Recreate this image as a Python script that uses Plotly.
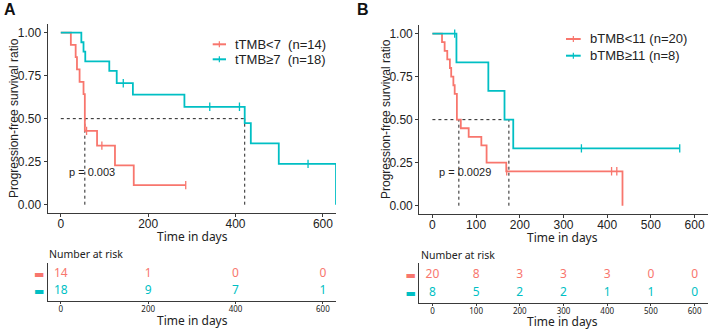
import plotly.graph_objects as go

W, H = 708, 330
RED = '#F8766D'
TEAL = '#00BFC4'
AX = '#3a3a3a'

# ---------------- Panel A data (tTMB) ----------------
a_red_t = [0, 23, 34, 37, 43, 52, 55, 83, 124, 167, 286]
a_red_s = [1.0, 0.929, 0.857, 0.786, 0.714, 0.643, 0.429, 0.343, 0.229, 0.114, 0.114]
a_red_cens_t = [59, 94, 286]
a_red_cens_s = [0.429, 0.343, 0.114]

a_teal_t = [0, 47, 52, 56, 111, 128, 165, 283, 421, 435, 499, 630]
a_teal_s = [1.0, 0.944, 0.889, 0.833, 0.778, 0.706, 0.640, 0.569, 0.474, 0.356, 0.237, 0.0]
a_teal_cens_t = [143, 341, 409, 566]
a_teal_cens_s = [0.706, 0.569, 0.569, 0.237]

a_medians = [55, 421]
a_pval = "p = 0.003"
a_labels = ["tTMB<7  (n=14)", "tTMB≥7  (n=18)"]

a_risk_t = [0, 200, 400, 600]
a_risk_red = [14, 1, 0, 0]
a_risk_teal = [18, 9, 7, 1]

# ---------------- Panel B data (bTMB) ----------------
b_red_t = [0, 22, 28, 34, 40, 43, 48, 51, 56, 65, 83, 112, 124, 169, 435]
b_red_s = [1.0, 0.95, 0.90, 0.85, 0.80, 0.75, 0.70, 0.65, 0.50, 0.45, 0.40, 0.35, 0.25, 0.20, 0.0]
b_red_cens_t = [170, 410, 422]
b_red_cens_s = [0.20, 0.20, 0.20]

b_teal_t = [0, 55, 128, 165, 185, 566]
b_teal_s = [1.0, 0.833, 0.667, 0.5, 0.333, 0.333]
b_teal_cens_t = [51, 341, 566]
b_teal_cens_s = [1.0, 0.333, 0.333]

b_medians = [60.5, 175]
b_pval = "p = 0.0029"
b_labels = ["bTMB<11 (n=20)", "bTMB≥11 (n=8)"]

b_risk_t = [0, 100, 200, 300, 400, 500, 600]
b_risk_red = [20, 8, 3, 3, 3, 0, 0]
b_risk_teal = [8, 5, 2, 2, 1, 1, 0]

y_ticks = [0, 0.25, 0.5, 0.75, 1.0]
y_ticktext = ["0.00", "0.25", "0.50", "0.75", "1.00"]


def px(x):
    return x / W


def py(y):
    return 1 - y / H


fig = go.Figure()


def add_panel(xa, ya, red_t, red_s, rct, rcs, teal_t, teal_s, tct, tcs, medians):
    # median dashed lines
    mx = [0, max(medians), None]
    my = [0.5, 0.5, None]
    for m in medians:
        mx += [m, m, None]
        my += [0, 0.5, None]
    fig.add_trace(go.Scatter(x=mx, y=my, mode='lines', xaxis=xa, yaxis=ya,
                             line=dict(color='#222', width=1, dash='3px,3px'),
                             showlegend=False, hoverinfo='skip'))
    for t, s, ct, cs, c in [(red_t, red_s, rct, rcs, RED), (teal_t, teal_s, tct, tcs, TEAL)]:
        fig.add_trace(go.Scatter(x=t, y=s, mode='lines', xaxis=xa, yaxis=ya,
                                 line=dict(color=c, width=1.8, shape='hv'),
                                 showlegend=False, hoverinfo='skip'))
        fig.add_trace(go.Scatter(x=ct, y=cs, mode='markers', xaxis=xa, yaxis=ya,
                                 marker=dict(symbol='line-ns-open', size=6, color=c,
                                             line=dict(color=c, width=1.3)),
                                 showlegend=False, hoverinfo='skip'))


add_panel('x', 'y', a_red_t, a_red_s, a_red_cens_t, a_red_cens_s,
          a_teal_t, a_teal_s, a_teal_cens_t, a_teal_cens_s, a_medians)
add_panel('x2', 'y2', b_red_t, b_red_s, b_red_cens_t, b_red_cens_s,
          b_teal_t, b_teal_s, b_teal_cens_t, b_teal_cens_s, b_medians)

# p-values
fig.add_annotation(x=14, y=0.19, xref='x', yref='y', text=a_pval, showarrow=False,
                   xanchor='left', yanchor='middle',
                   font=dict(family='Liberation Sans', size=11, color='#222'))
fig.add_annotation(x=11, y=0.193, xref='x2', yref='y2', text=b_pval, showarrow=False,
                   xanchor='left', yanchor='middle',
                   font=dict(family='Liberation Sans', size=11, color='#222'))

# risk tables
for xa, ya, t, r, tl in [('x3', 'y3', a_risk_t, a_risk_red, a_risk_teal),
                         ('x4', 'y4', b_risk_t, b_risk_red, b_risk_teal)]:
    fig.add_trace(go.Scatter(x=t, y=[2] * len(t), text=[str(v) for v in r], mode='text',
                             xaxis=xa, yaxis=ya, textfont=dict(family='Noto Sans', size=12, color=RED),
                             showlegend=False, hoverinfo='skip', cliponaxis=False))
    fig.add_trace(go.Scatter(x=t, y=[1] * len(t), text=[str(v) for v in tl], mode='text',
                             xaxis=xa, yaxis=ya, textfont=dict(family='Noto Sans', size=12, color=TEAL),
                             showlegend=False, hoverinfo='skip', cliponaxis=False))

main_x = dict(range=[-30, 630], showline=True, linecolor=AX, linewidth=1.2, ticks='outside',
              ticklen=3, tickcolor=AX, showgrid=False, zeroline=False, automargin=False,
              ticklabelstandoff=-4,
              tickfont=dict(family='Liberation Sans', size=12, color='#222'))
main_y = dict(range=[-0.05, 1.05], showline=True, linecolor=AX, linewidth=1.2, ticks='outside',
              ticklen=3, tickcolor=AX, showgrid=False, zeroline=False, automargin=False,
              tickvals=y_ticks, ticktext=y_ticktext,
              tickfont=dict(family='Liberation Sans', size=12, color='#222'))
tab_x = dict(range=[-30, 630], showline=True, linecolor=AX, linewidth=1.2, ticks='outside',
             ticklen=2, tickcolor=AX, showgrid=False, zeroline=False, automargin=False,
             ticklabelstandoff=-2,
             tickfont=dict(family='Noto Sans', size=8, color='#222'))
dash_text = ['<span style="color:%s">▬</span>' % TEAL, '<span style="color:%s">▬</span>' % RED]
tab_y = dict(showline=True, linecolor=AX, linewidth=1.2, ticks='', showgrid=False, zeroline=False,
             automargin=False, tickvals=[1, 2], ticktext=dash_text,
             tickfont=dict(family='DejaVu Sans', size=11))

fig.update_layout(
    width=W, height=H, margin=dict(l=0, r=0, t=0, b=0),
    paper_bgcolor='white', plot_bgcolor='white', showlegend=False,
    xaxis=dict(main_x, domain=[px(47.7), px(336)], anchor='y', tickvals=[0, 200, 400, 600]),
    yaxis=dict(main_y, domain=[py(213.3), py(24)], anchor='x'),
    xaxis2=dict(main_x, domain=[px(419.3), px(707.7)], anchor='y2',
                tickvals=[0, 100, 200, 300, 400, 500, 600]),
    yaxis2=dict(main_y, domain=[py(214.3), py(25)], anchor='x2'),
    xaxis3=dict(tab_x, domain=[px(47.7), px(336)], anchor='y3', tickvals=a_risk_t),
    yaxis3=dict(tab_y, domain=[py(301), py(263)], anchor='x3', range=[0.412, 2.647]),
    xaxis4=dict(tab_x, domain=[px(419.3), px(707.7)], anchor='y4', tickvals=b_risk_t),
    yaxis4=dict(tab_y, domain=[py(303), py(263)], anchor='x4', range=[0.418, 2.678]),
)

# panel letters
for txt, x, y in [("A", 2, 10), ("B", 355, 10)]:
    fig.add_annotation(x=px(x), y=py(y), xref='paper', yref='paper', text="<b>%s</b>" % txt,
                       showarrow=False, xanchor='left', yanchor='middle',
                       font=dict(family='Liberation Sans', size=16, color='#111'))

# y titles
for x, y in [(14, 118), (386, 119)]:
    fig.add_annotation(x=px(x), y=py(y), xref='paper', yref='paper',
                       text="Progression-free survival ratio", textangle=-90, showarrow=False,
                       xanchor='center', yanchor='middle',
                       font=dict(family='Liberation Sans', size=12, color='#222'))

# x titles
for x, y in [(192, 236), (562, 237), (192, 320), (562, 321)]:
    fig.add_annotation(x=px(x), y=py(y), xref='paper', yref='paper', text="Time in days",
                       showarrow=False, xanchor='center', yanchor='middle',
                       font=dict(family='Noto Sans', size=12, color='#222'))

# Number at risk
for x, y in [(47, 254), (419, 255)]:
    fig.add_annotation(x=px(x), y=py(y), xref='paper', yref='paper', text="Number at risk",
                       showarrow=False, xanchor='left', yanchor='middle',
                       font=dict(family='Noto Sans', size=10.5, color='#222'))

# legends (manual)
for (x0, x1, tx, ys, labels) in [(212.7, 226, 232.7, [44.3, 59.3], a_labels),
                                 (566, 580.7, 588.3, [39, 55.7], b_labels)]:
    for yy, lab, c in zip(ys, labels, [RED, TEAL]):
        fig.add_shape(type='line', xref='paper', yref='paper', x0=px(x0), x1=px(x1),
                      y0=py(yy), y1=py(yy), line=dict(color=c, width=2))
        xm = (x0 + x1) / 2
        fig.add_shape(type='line', xref='paper', yref='paper', x0=px(xm), x1=px(xm),
                      y0=py(yy - 3), y1=py(yy + 3), line=dict(color=c, width=1.2))
        fig.add_annotation(x=px(tx), y=py(yy), xref='paper', yref='paper', text=lab,
                           showarrow=False, xanchor='left', yanchor='middle',
                           font=dict(family='Liberation Sans', size=13, color='#222'))

fig.write_html("out.html", config={'displayModeBar': False},
               post_script="document.body.style.margin='0';document.body.style.overflow='hidden';")
